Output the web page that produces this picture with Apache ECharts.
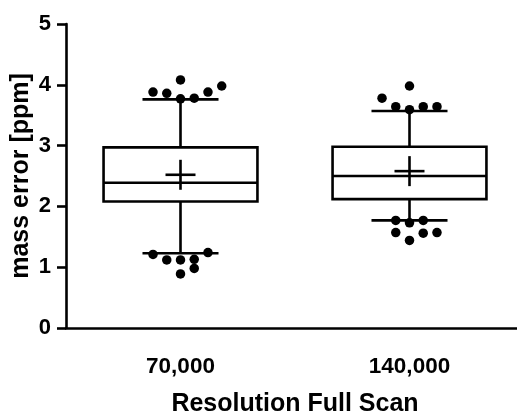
<!DOCTYPE html>
<html>
<head>
<meta charset="utf-8">
<script src="https://cdn.jsdelivr.net/npm/echarts@6/dist/echarts.min.js"></script>
<style>
html,body{margin:0;padding:0;background:#fff;}
#chart{width:517px;height:412px;}
</style>
</head>
<body>
<div id="chart"></div>
<script>
// Categories and tick labels
const categories = ['70,000', '140,000'];
const yTicks = [0, 1, 2, 3, 4, 5];

// Box statistics: [min whisker, Q1, median, Q3, max whisker, mean]
const box70k  = [1.23, 2.08, 2.39, 2.97, 3.76, 2.52];
const box140k = [1.77, 2.12, 2.50, 2.98, 3.57, 2.58];

// Outliers: [x position on hidden value axis (category centre 1 or 3, with jitter), value]
const outliers70k = [
  [0.76, 3.88], [0.88, 3.86], [1.00, 4.08], [1.00, 3.77], [1.12, 3.78], [1.24, 3.88], [1.36, 3.98],
  [0.76, 1.21], [0.88, 1.12], [1.00, 1.12], [1.12, 1.13], [1.24, 1.24], [1.00, 0.89], [1.12, 0.98]
];
const outliers140k = [
  [3.00, 3.98], [2.76, 3.78], [2.88, 3.64], [3.00, 3.59], [3.12, 3.64], [3.24, 3.64],
  [2.88, 1.77], [3.00, 1.73], [3.12, 1.77], [2.88, 1.57], [3.12, 1.56], [3.24, 1.57], [3.00, 1.44]
];

const FONT = 'Liberation Sans';
const LW = 2.6;

const boxData = [box70k, box140k].map((b, i) => [i].concat(b));

function renderBox(params, api) {
  const ci = api.value(0);
  const cx = api.coord([ci, 0])[0];
  const band = api.size([1, 0])[0];
  const bw = band * 0.672;
  const cw = band * 0.332;
  const y = k => api.coord([ci, api.value(k)])[1];
  const yMin = y(1), yQ1 = y(2), yMed = y(3), yQ3 = y(4), yMax = y(5), yMean = y(6);
  const ls = {stroke: '#000', lineWidth: LW};
  const line = (x1, y1, x2, y2) => ({type: 'line', shape: {x1, y1, x2, y2}, style: ls});
  const cs = 15;
  return {
    type: 'group',
    children: [
      line(cx, yQ3, cx, yMax),
      line(cx - cw / 2, yMax, cx + cw / 2, yMax),
      line(cx, yQ1, cx, yMin),
      line(cx - cw / 2, yMin, cx + cw / 2, yMin),
      {type: 'rect', shape: {x: cx - bw / 2, y: yQ3, width: bw, height: yQ1 - yQ3},
       style: {fill: '#fff', stroke: '#000', lineWidth: LW}},
      line(cx - bw / 2, yMed, cx + bw / 2, yMed),
      line(cx - cs, yMean, cx + cs, yMean),
      line(cx, yMean - cs, cx, yMean + cs)
    ]
  };
}

const chart = echarts.init(document.getElementById('chart'), null, {renderer: 'canvas'});
chart.setOption({
  backgroundColor: '#fff',
  animation: false,
  grid: {left: 66, top: 24, width: 458, height: 304, containLabel: false, outerBoundsMode: 'none'},
  xAxis: [{
    type: 'category',
    data: categories,
    boundaryGap: true,
    axisLine: {lineStyle: {color: '#000', width: LW}},
    axisTick: {alignWithLabel: true, length: 9, lineStyle: {color: '#000', width: LW}},
    axisLabel: {color: '#000', fontFamily: FONT, fontWeight: 'bold', fontSize: 22.5, margin: 27},
    name: 'Resolution Full Scan',
    nameLocation: 'middle',
    nameGap: 64,
    nameMoveOverlap: false,
    nameTextStyle: {color: '#000', fontFamily: FONT, fontWeight: 'bold', fontSize: 25},
    splitLine: {show: false}
  }, {
    type: 'value',
    min: 0, max: 4,
    show: false,
    splitLine: {show: false}
  }],
  yAxis: {
    type: 'value',
    min: yTicks[0],
    max: yTicks[yTicks.length - 1],
    interval: 1,
    axisLine: {show: true, lineStyle: {color: '#000', width: LW}},
    axisTick: {show: true, length: 9, lineStyle: {color: '#000', width: LW}},
    axisLabel: {color: '#000', fontFamily: FONT, fontWeight: 'bold', fontSize: 22, margin: 15},
    splitLine: {show: false},
    name: 'mass error [ppm]',
    nameLocation: 'middle',
    nameGap: 32,
    nameMoveOverlap: false,
    nameTextStyle: {color: '#000', fontFamily: FONT, fontWeight: 'bold', fontSize: 25},
  },
  series: [{
    type: 'custom',
    xAxisIndex: 0,
    renderItem: renderBox,
    data: boxData,
    clip: false,
    z: 2
  }, {
    type: 'scatter',
    xAxisIndex: 1,
    data: outliers70k.concat(outliers140k),
    symbolSize: 9.5,
    itemStyle: {color: '#000', opacity: 1},
    z: 3
  }]
});
</script>
</body>
</html>
